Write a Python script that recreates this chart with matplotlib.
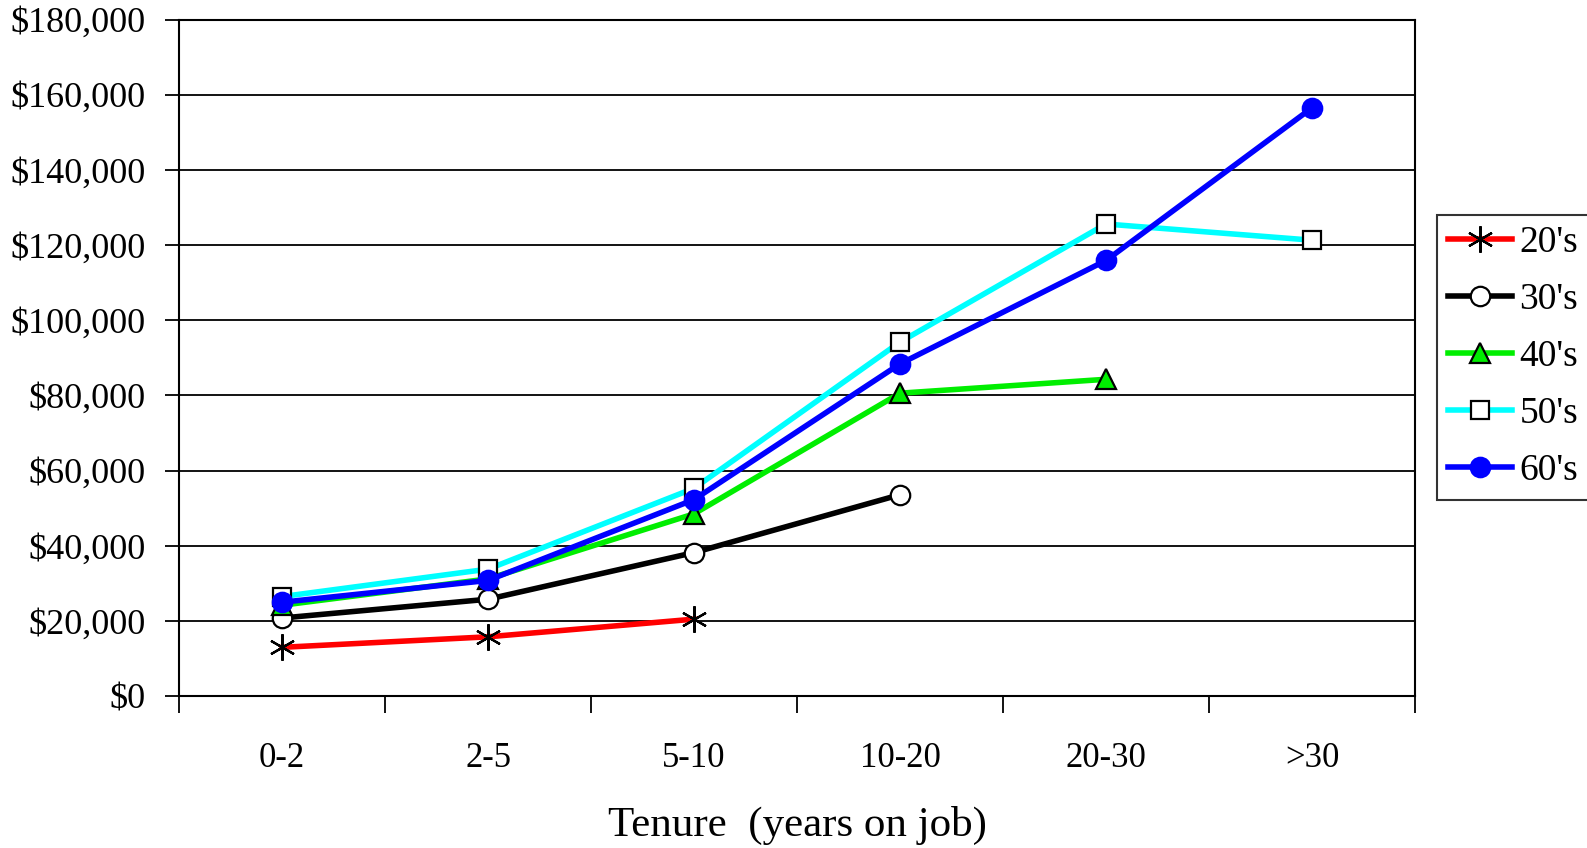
import numpy as np
import matplotlib
matplotlib.use("Agg")
import matplotlib.pyplot as plt
from matplotlib.ticker import FuncFormatter

plt.rcParams['font.family'] = ['Liberation Serif', 'DejaVu Serif']

tenure = ['0-2', '2-5', '5-10', '10-20', '20-30', '>30']
pay_20s = [13000, 15800, 20500]
pay_30s = [20800, 25800, 38200, 53600]
pay_40s = [24200, 31200, 48500, 80600, 84300]
pay_50s = [26500, 33800, 55300, 94200, 125600, 121300]
pay_60s = [25000, 30800, 52300, 88400, 115900, 156500]

series = [
    ("20's", pay_20s, 'red', 'x', 'black'),
    ("30's", pay_30s, 'black', 'o', 'white'),
    ("40's", pay_40s, '#00ee00', '^', '#00ee00'),
    ("50's", pay_50s, 'cyan', 's', 'white'),
    ("60's", pay_60s, 'blue', 'o', 'blue'),
]

fig = plt.figure(figsize=(15.87, 8.48), dpi=100)
ax = fig.add_axes([0.1128, 0.179, 0.7788, 0.798])

x = np.arange(len(tenure))
for name, vals, col, mk, fc in series:
    xs = x[:len(vals)]
    if mk == 'x':
        ax.plot(xs, vals, '-', color=col, lw=4.0, label=name, zorder=3,
                marker=(6, 2, 0), ms=19, mec='black', mew=1.6)
    else:
        ec = 'blue' if col == 'blue' else 'black'
        ax.plot(xs, vals, '-', color=col, lw=4.0, label=name, zorder=3,
                marker=mk, ms=14 if mk != 's' else 13, mfc=fc, mec=ec, mew=1.6)

ax.set_xlim(-0.5, 5.5)
ax.set_ylim(0, 180000)
ax.set_yticks(np.arange(0, 180001, 20000))
ax.yaxis.set_major_formatter(FuncFormatter(lambda v, p: '${:,.0f}'.format(v)))
ax.grid(axis='y', color='black', lw=1.3)
ax.set_axisbelow(True)

# category boundaries carry the tick marks, labels sit in the middle
ax.set_xticks(np.arange(-0.5, 6, 1.0))
ax.set_xticklabels([])
ax.set_xticks(x, minor=True)
ax.set_xticklabels(tenure, minor=True)
ax.tick_params(axis='x', which='major', direction='out', length=12, width=1.3)
ax.tick_params(axis='x', which='minor', length=0, pad=33, labelsize=25)
ax.tick_params(axis='y', direction='out', length=10, width=1.3, labelsize=26, pad=14)

for s in ax.spines.values():
    s.set_linewidth(1.5)
    s.set_color('black')

ax.set_xlabel('Tenure  (years on job)', fontsize=31, labelpad=22)

leg = fig.legend(loc='upper left', bbox_to_anchor=(0.9055, 0.747), fontsize=27,
                 frameon=True, fancybox=False, edgecolor='black', handlelength=1.7,
                 handletextpad=0.2, labelspacing=0.6, borderpad=0.3, borderaxespad=0)
leg.get_frame().set_linewidth(1.5)

fig.savefig('out.png', dpi=100)
